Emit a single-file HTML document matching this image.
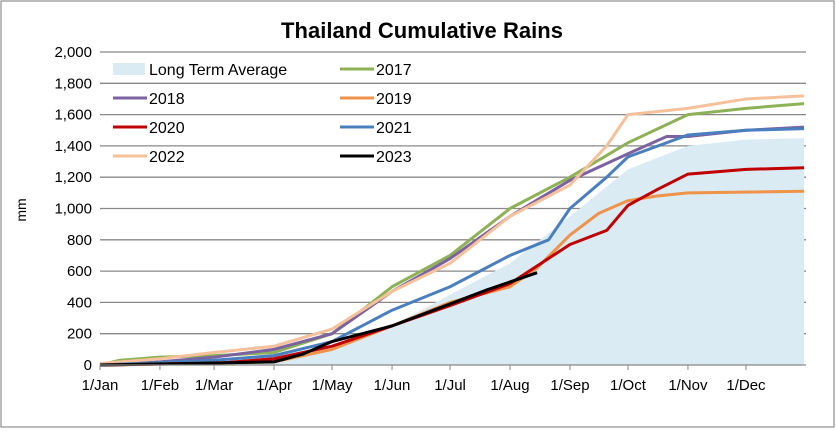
<!DOCTYPE html>
<html><head><meta charset="utf-8"><style>
body{margin:0;background:#fff;font-family:"Liberation Sans",sans-serif}
</style></head><body>
<svg id="c" width="836" height="429" xmlns="http://www.w3.org/2000/svg" font-family="Liberation Sans, sans-serif">
<rect x="1" y="1" width="833" height="426" fill="#fff" stroke="#777" stroke-width="1"/>
<text x="422" y="38" text-anchor="middle" font-size="22" font-weight="bold" textLength="282">Thailand Cumulative Rains</text>
<text transform="translate(26,210) rotate(-90)" text-anchor="middle" font-size="14">mm</text>
<g id="grid"></g><g id="area"></g><g id="lines"></g><g id="axes"></g><g id="legend"></g>
</svg>
<script>
const months=["1/Jan","1/Feb","1/Mar","1/Apr","1/May","1/Jun","1/Jul","1/Aug","1/Sep","1/Oct","1/Nov","1/Dec"];
const monthDays=[0,31,59,90,120,151,181,212,243,273,304,334];
const yTicks=[0,200,400,600,800,1000,1200,1400,1600,2000,1800];
const ltaDays=[0,31,59,90,120,151,181,212,243,273,304,334,364];
const ltaVals=[0,10,20,40,100,250,450,650,950,1250,1400,1440,1450];
const d2017=[[0,0],[10,30],[31,50],[59,60],[90,80],[120,200],[151,500],[181,700],[212,1000],[243,1200],[273,1420],[304,1600],[334,1640],[364,1670]];
const d2018=[[0,0],[31,20],[59,50],[90,100],[120,200],[151,470],[181,680],[212,950],[243,1180],[273,1350],[293,1460],[304,1460],[334,1500],[364,1520]];
const d2019=[[0,0],[90,20],[120,100],[151,250],[181,400],[212,500],[226,620],[243,830],[258,970],[273,1050],[288,1080],[304,1100],[364,1110]];
const d2020=[[0,0],[59,10],[90,40],[120,120],[151,250],[181,380],[212,520],[243,770],[262,860],[273,1020],[288,1120],[304,1220],[334,1250],[364,1260]];
const d2021=[[0,0],[59,30],[90,60],[120,150],[151,350],[181,500],[212,700],[232,800],[243,1000],[262,1200],[273,1330],[293,1420],[304,1470],[334,1500],[364,1510]];
const d2022=[[0,10],[31,40],[59,80],[90,120],[120,230],[151,470],[181,650],[212,950],[243,1150],[262,1400],[273,1600],[304,1640],[334,1700],[364,1720]];
const d2023=[[0,0],[90,20],[105,70],[120,150],[151,250],[181,390],[200,480],[226,590]];
const series=[["2017","#8db255",d2017],["2018","#7c62a0",d2018],["2022","#f5c09a",d2022],["2021","#4a7fbf",d2021],["2019","#f0934a",d2019],["2020","#c00000",d2020],["2023","#000",d2023]];
const X=d=>100+d*1.934, Y=v=>365-v*313/2000;
const NS="http://www.w3.org/2000/svg";
function mk(t,a,p){const e=document.createElementNS(NS,t);for(const k in a)e.setAttribute(k,a[k]);p.appendChild(e);return e;}
const grid=document.getElementById('grid'),axes=document.getElementById('axes');
yTicks.forEach(v=>{
 if(v>0){const l=mk('line',{x1:100,x2:806,y1:Y(v),y2:Y(v),stroke:'#888','stroke-width':1.3},grid);
 
 }
 const t=mk('text',{x:92,y:Y(v)+5,'text-anchor':'end','font-size':15},axes);t.textContent=v.toLocaleString('en-US');
 
 
});
let pts=ltaDays.map((d,i)=>X(d)+','+Y(ltaVals[i])).join(' ');
const ar=mk('polygon',{points:X(0)+','+Y(0)+' '+pts+' '+X(364)+','+Y(0),fill:'#daebf3'},document.getElementById('area'));


const lines=document.getElementById('lines');
series.forEach(s=>{
 const p=mk('polyline',{points:s[2].map(q=>X(q[0])+','+Y(q[1])).join(' '),fill:'none',stroke:s[1],'stroke-width':3,'stroke-linejoin':'round'},lines);
 
 
});
const ax=mk('line',{x1:100,x2:806,y1:365,y2:365,stroke:'#888','stroke-width':1.3},axes);


months.forEach((m,i)=>{
 const tk=mk('line',{x1:X(monthDays[i]),x2:X(monthDays[i]),y1:365,y2:370,stroke:'#888'},axes);
 
 
 const t=mk('text',{x:X(monthDays[i]),y:390,'text-anchor':'middle','font-size':15},axes);t.textContent=m;
 
 
});
const lg=document.getElementById('legend');
const leg=[["Long Term Average","#daebf3",true],["2017","#8db255"],["2018","#7c62a0"],["2019","#f0934a"],["2020","#c00000"],["2021","#4a7fbf"],["2022","#f5c09a"],["2023","#000"]];
leg.forEach((e,i)=>{
 const col=i%2,row=Math.floor(i/2),x0=col?340:113,y=69+row*29;
 if(e[2]){const r=mk('rect',{x:x0,y:y-6,width:32,height:12,fill:e[1]},lg);}
 else{const l=mk('line',{x1:x0,x2:x0+34,y1:y,y2:y,stroke:e[1],'stroke-width':3},lg);}
 const t=mk('text',{x:x0+36,y:y+6,'font-size':16},lg);t.textContent=e[0];
 
 
});
</script>
</body></html>
